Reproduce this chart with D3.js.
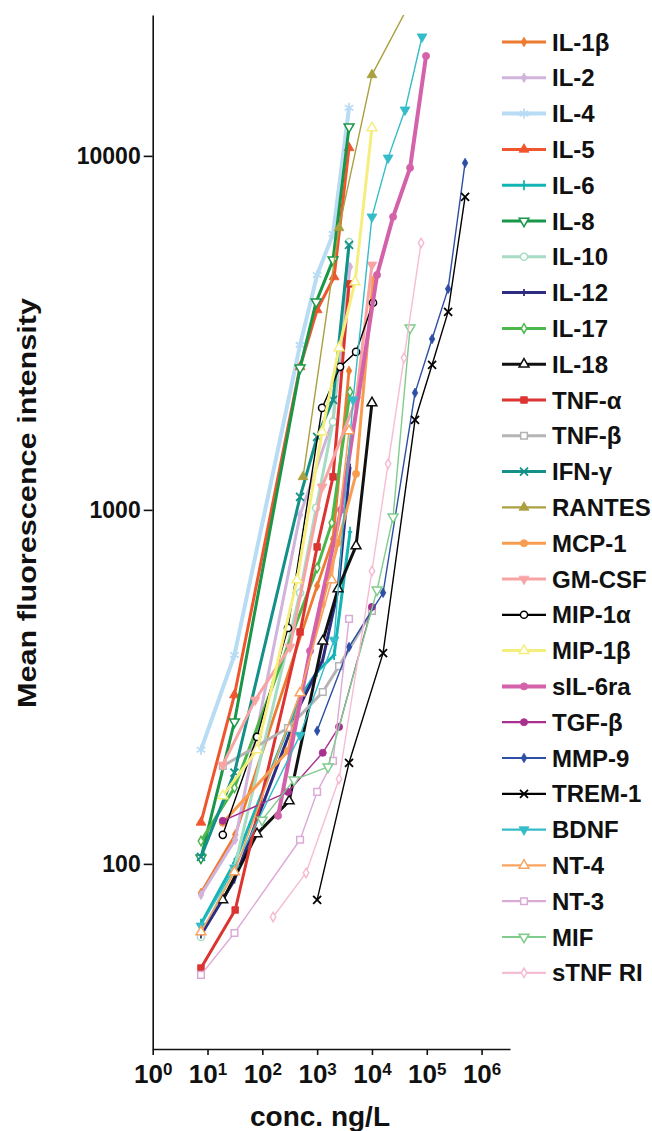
<!DOCTYPE html>
<html><head><meta charset="utf-8">
<script src="https://cdn.jsdelivr.net/npm/d3@7"></script>
<style>
body{margin:0;background:#fff}
text{font-family:"Liberation Sans",Arial,sans-serif;font-weight:bold;fill:#111}
</style>
</head><body>
<svg id="chart" width="652" height="1131"></svg>
<script>
// ---------------- data: [concentration ng/L, mean fluorescence intensity] ----------------
const seriesNames = ["IL-1β","IL-2","IL-4","IL-5","IL-6","IL-8","IL-10","IL-12","IL-17","IL-18",
  "TNF-α","TNF-β","IFN-γ","RANTES","MCP-1","GM-CSF","MIP-1α","MIP-1β","sIL-6ra",
  "TGF-β","MMP-9","TREM-1","BDNF","NT-4","NT-3","MIF","sTNF RI"];

const IL1b   = [[7.6,82.8],[32,121],[1000,610],[1950,828],[3820,2470]];
const IL2    = [[7.6,81.7],[32,117],[488,968],[1950,1795],[3980,4860]];
const IL4    = [[7.6,210],[31,389],[488,2925],[1000,4610],[1950,6020],[3820,13670]];
const IL5    = [[7.6,131],[31,300],[488,2535],[1000,3673],[2040,4550],[3820,10540]];
const IL6    = [[7.6,67.7],[31,100.7],[488,296],[1000,349],[2040,389],[3980,867]];
const IL8    = [[7.6,104],[31,252],[488,2518],[960,3869],[1950,5086],[3820,12080]];
const IL10   = [[7.6,62.2],[31,97.4],[488,583],[960,1013],[1950,1773],[3820,5713]];
const IL12   = [[7.6,63],[31,90.1],[488,281],[1265,377],[2405,594],[3980,1322]];
const IL17   = [[7.6,116],[31,164],[1000,686],[1850,919],[3980,2154]];
const IL18   = [[19,79.1],[80,121.6],[309,150.6],[1265,426],[2405,598],[5130,791],[10000,2005]];
const TNFa   = [[7.6,50.8],[32,74.1],[488,452],[1000,786],[1950,1240],[3820,4350]];
const TNFb   = [[19,189],[294,242],[1265,306],[2510,362],[10000,518]];
const IFNg   = [[7.6,104.7],[31,181],[488,1088],[1000,1607],[1950,2046],[3820,5605]];
const RANTES = [[553,1240],[2510,6260],[10000,16940],[49600,27050]];
const MCP1   = [[19,130.6],[294,208.5],[1230,542],[2405,807],[5130,1264],[10470,4466]];
const GMCSF  = [[19,190.4],[74,290.6],[320,410],[1230,1161],[5130,2046],[10000,4920]];
const MIP1a  = [[19,120.8],[80,228.4],[294,464],[1230,1941],[2620,2535],[5130,2794],[10470,3846]];
const MIP1b  = [[19,155.6],[80,210],[430,634],[1230,1661],[2510,2869],[4920,4405],[10000,12000]];
const sIL6ra = [[194,136.7],[742,399.6],[2730,1000],[12400,4610],[24300,6727],[49600,9250],[97000,19150]];
const TGFb   = [[19,132.3],[294,159.7],[1265,206],[2510,243.8],[10000,532]];
const MMP9   = [[1000,237.6],[3820,410],[15950,583],[61100,2141],[125000,3040],[245000,4210],[500000,9550]];
const TREM1  = [[1000,79.1],[3820,193],[15950,394],[61100,1795],[125000,2570],[245000,3626],[500000,7660]];
const BDNF   = [[7.6,66.8],[31,97.4],[488,231],[2040,429],[4520,2046],[10000,6727],[19700,9870],[40200,13490],[82000,21700]];
const NT4    = [[7.6,64.2],[31,94.9],[488,304],[1850,634],[3820,1672]];
const NT3    = [[7.6,48.6],[31,63.8],[488,117],[1000,159.7],[1950,195.4],[3820,492]];
const MIF    = [[99,133],[379,172.7],[1580,188],[12400,594],[24300,955],[49600,3267]];
const sTNFRI = [[157,70.8],[627,94.3],[2510,173.8],[10000,672],[19700,1349],[38500,2688],[78700,5675]];

const seriesValues = [IL1b,IL2,IL4,IL5,IL6,IL8,IL10,IL12,IL17,IL18,TNFa,TNFb,IFNg,RANTES,MCP1,GMCSF,
  MIP1a,MIP1b,sIL6ra,TGFb,MMP9,TREM1,BDNF,NT4,NT3,MIF,sTNFRI];

const xTickValues = [1,10,100,1000,10000,100000,1000000];
const yTickValues = [100,1000,10000];

// ---------------- styles ----------------
const seriesColors = ["#ee7a30","#d0b4dc","#b8dcf4","#f0562e","#14b4b4","#1a9648","#a6dcc4","#2c2c80","#4cb84c","#111111",
  "#dc3430","#b4b4b4","#139088","#aaa040","#f89c50","#f8a4a4","#000000","#f6ee7c","#d462aa",
  "#a8308e","#2c4ea4","#000000","#34bcc8","#f8a460","#dcaad6","#80cc8c","#f6bcd4"];
const seriesWidths = [2.8,3,4,3,3,3,3,3,3,3, 3,3,3,1.4,3,3,1.4,3,4, 1.4,1.4,1.4,1.4,1.6,1.4,1.4,1.4];
const seriesMarkers = ["diamond","diamond","asterisk","tri","plus","triDown","circle","tick","diamond","tri",
  "square","square","x","tri","circle","triDown","circle","tri","circle",
  "circle","diamond","x","triDown","tri","square","triDown","diamond"];
const seriesOpen = [false,false,false,false,false,true,true,false,true,true,
  false,true,false,false,false,false,true,true,false,
  false,false,false,false,true,true,true,true];

// ---------------- layout ----------------
const svg = d3.select("#chart");
const x = d3.scaleLog().domain([1, 3.3e6]).range([152.7, 510]);
const y = d3.scaleLog().domain([30, 25000]).range([1049, 15]);

svg.append("defs").append("clipPath").attr("id","plotClip")
  .append("rect").attr("x",152.7).attr("y",15).attr("width",510-152.7).attr("height",1049-15);

function markerPath(t){
  switch(t){
    case "diamond": return d3.symbol(d3.symbolDiamond, 26)();
    case "tri": return d3.symbol(d3.symbolTriangle, 42)();
    case "triDown": return d3.symbol(d3.symbolTriangle, 42)();
    case "circle": return d3.symbol(d3.symbolCircle, 40)();
    case "square": return d3.symbol(d3.symbolSquare, 44)();
    case "x": return "M-4,-4L4,4M-4,4L4,-4";
    case "asterisk": return "M0,-5V5M-4.3,-2.5L4.3,2.5M-4.3,2.5L4.3,-2.5";
    case "tick": return "M0,-3.5V3.5";
    case "plus": return "M0,-5V5M-2.2,0H2.2";
  }
}
const strokeOnly = t => (t==="x"||t==="asterisk"||t==="tick"||t==="plus");

function drawMarker(g, i, cx, cy){
  const t = seriesMarkers[i], col = seriesColors[i];
  const p = g.append("path").attr("d", markerPath(t))
    .attr("transform", `translate(${cx},${cy})` + (t==="triDown" ? " rotate(180)" : ""));
  if (strokeOnly(t)) p.attr("fill","none").attr("stroke",col).attr("stroke-width",1.8);
  else if (seriesOpen[i]) p.attr("fill","#fff").attr("stroke",col).attr("stroke-width",1.5);
  else p.attr("fill",col).attr("stroke",col).attr("stroke-width",0.8);
}

// ---------------- series ----------------
const line = d3.line().x(d => x(d[0])).y(d => y(d[1]));
const plot = svg.append("g").attr("clip-path","url(#plotClip)");
seriesValues.forEach((vals, i) => {
  const g = plot.append("g");
  g.append("path").datum(vals).attr("d", line)
    .attr("fill","none").attr("stroke", seriesColors[i]).attr("stroke-width", seriesWidths[i])
    .attr("stroke-linejoin","round");
  vals.forEach(d => drawMarker(g, i, x(d[0]), y(d[1])));
});

// ---------------- axes ----------------
const yAxis = svg.append("g").attr("transform","translate(152.7,0)")
  .call(d3.axisLeft(y).tickValues(yTickValues).tickFormat(d3.format("d")).tickSize(9).tickSizeOuter(0));
yAxis.selectAll("path,line").attr("stroke","#111").attr("stroke-width",1.6);
yAxis.selectAll("text").attr("font-size",23).attr("font-family",null).attr("fill","#111");

const xAxis = svg.append("g").attr("transform","translate(0,1049)")
  .call(d3.axisBottom(x).tickValues(xTickValues).tickSize(6).tickSizeOuter(0).tickFormat(() => ""));
xAxis.selectAll("path,line").attr("stroke","#111").attr("stroke-width",1.6);
xAxis.selectAll(".tick text").each(function(d){
  const t = d3.select(this).attr("y",16).attr("dy","0.71em").attr("font-size",26).attr("font-family",null).attr("fill","#111");
  t.append("tspan").text("10");
  t.append("tspan").text(Math.round(Math.log10(d))).attr("font-size",17).attr("dy","-0.5em");
});

svg.append("text").attr("x",320).attr("y",1126).attr("text-anchor","middle")
  .attr("font-size",28).text("conc. ng/L");
svg.append("text").attr("transform","translate(36,503) rotate(-90)").attr("text-anchor","middle")
  .attr("font-size",26).attr("textLength",410).attr("lengthAdjust","spacingAndGlyphs")
  .text("Mean fluorescence intensity");

// ---------------- legend ----------------
const legend = svg.append("g");
seriesNames.forEach((name, i) => {
  const cy = 42 + 35.8 * i;
  const g = legend.append("g");
  g.append("line").attr("x1",502).attr("x2",546).attr("y1",cy).attr("y2",cy)
    .attr("stroke",seriesColors[i]).attr("stroke-width",Math.max(seriesWidths[i],2.2));
  drawMarker(g, i, 524, cy);
  g.append("text").attr("x",552).attr("y",cy+8.5).attr("font-size",24).text(name);
});
</script>
</body></html>
